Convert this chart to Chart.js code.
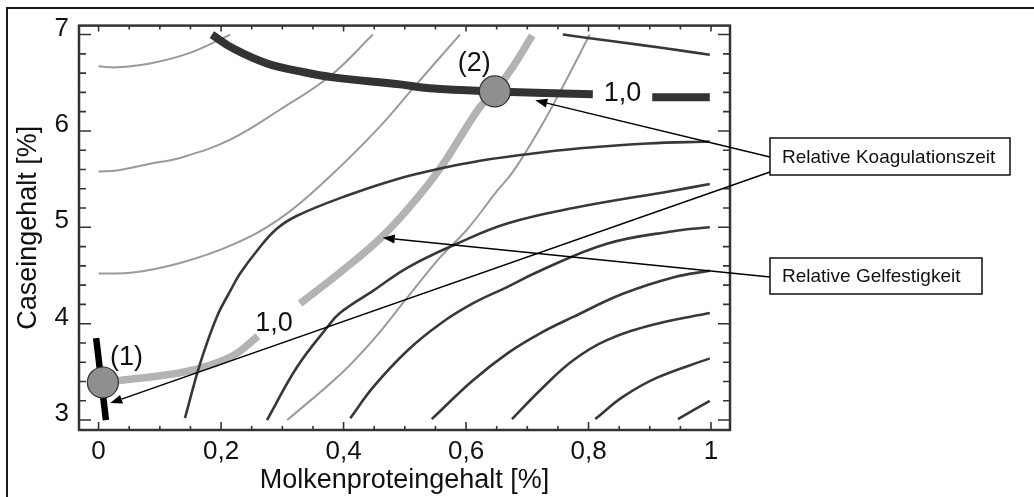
<!DOCTYPE html>
<html>
<head>
<meta charset="utf-8">
<script src="https://cdn.jsdelivr.net/npm/chart.js@4.4.1/dist/chart.umd.min.js"></script>
<style>
  html, body { margin: 0; padding: 0; background: #fff; }
  #wrap { width: 1034px; height: 497px; }
</style>
</head>
<body>
<div id="wrap"><canvas id="myChart" width="1034" height="497"></canvas></div>
<script>
var xTicks = [0, 0.2, 0.4, 0.6, 0.8, 1];
var xTickLabels = ["0", "0,2", "0,4", "0,6", "0,8", "1"];
var yTicks = [3, 4, 5, 6, 7];
var yTickLabels = ["3", "4", "5", "6", "7"];

// Relative Koagulationszeit, Isolinie 1,0 (mit Lücke für die Beschriftung)
var koag10 = [[0.185, 7.0], [0.22, 6.855], [0.275, 6.70], [0.329, 6.618], [0.383, 6.556], [0.492, 6.483],
  [0.541, 6.442], [0.647, 6.41], [0.807, 6.38], [0.855, null], [0.904, 6.35], [0.998, 6.35]];
var koag10Links = [[-0.004, 3.85], [0.012, 3.0]];

// Relative Koagulationszeit, weitere Isolinien
var koagOben = [[0.758, 7.0], [0.84, 6.93], [0.922, 6.86], [0.998, 6.79]];
var koag1 = [[0.141, 3.02], [0.166, 3.59], [0.193, 4.07], [0.215, 4.34], [0.231, 4.52], [0.259, 4.76],
  [0.29, 4.98], [0.324, 5.12], [0.406, 5.33], [0.487, 5.50], [0.558, 5.61], [0.623, 5.69], [0.677, 5.74],
  [0.786, 5.82], [0.896, 5.87], [0.998, 5.89]];
var koag2 = [[0.275, 3.0], [0.324, 3.55], [0.373, 3.96], [0.394, 4.11], [0.448, 4.34], [0.504, 4.58],
  [0.585, 4.83], [0.667, 5.04], [0.775, 5.20], [0.938, 5.38], [0.998, 5.45]];
var koag3 = [[0.411, 3.02], [0.448, 3.34], [0.504, 3.72], [0.558, 4.0], [0.611, 4.21], [0.667, 4.38],
  [0.721, 4.55], [0.83, 4.83], [0.938, 4.96], [0.998, 5.0]];
var koag4 = [[0.544, 3.01], [0.611, 3.41], [0.667, 3.69], [0.721, 3.90], [0.775, 4.07], [0.856, 4.31],
  [0.938, 4.48], [0.998, 4.55]];
var koag5 = [[0.675, 3.01], [0.721, 3.31], [0.775, 3.62], [0.83, 3.83], [0.912, 4.0], [0.998, 4.11]];
var koag6 = [[0.811, 3.01], [0.856, 3.24], [0.912, 3.44], [0.998, 3.64]];
var koag7 = [[0.946, 3.01], [0.998, 3.20]];

// Relative Gelfestigkeit, Isolinie 1,0 (mit Lücke für die Beschriftung)
var gel10 = [[0.002, 3.39], [0.032, 3.41], [0.112, 3.47], [0.166, 3.54], [0.22, 3.67], [0.26, 3.87],
  [0.295, null], [0.329, 4.21], [0.394, 4.53], [0.464, 4.91], [0.53, 5.38], [0.566, 5.69],
  [0.595, 5.98], [0.623, 6.25], [0.647, 6.41], [0.677, 6.67], [0.708, 6.99]];

// Relative Gelfestigkeit, weitere Isolinien
var gel1 = [[0, 6.67], [0.03, 6.66], [0.084, 6.70], [0.149, 6.81], [0.215, 7.0]];
var gel2 = [[0, 5.58], [0.03, 5.59], [0.084, 5.66], [0.133, 5.72], [0.215, 5.91], [0.296, 6.22],
  [0.378, 6.57], [0.448, 7.0]];
var gel3 = [[0, 4.52], [0.056, 4.53], [0.133, 4.63], [0.215, 4.81], [0.296, 5.09], [0.378, 5.53],
  [0.46, 6.05], [0.513, 6.44], [0.59, 7.0]];
var gel4 = [[0.308, 3.0], [0.394, 3.47], [0.448, 3.83], [0.504, 4.27], [0.558, 4.69], [0.602, 4.98],
  [0.651, 5.38], [0.677, 5.58], [0.721, 6.03], [0.758, 6.46], [0.802, 7.0]];

// Punkte (1) und (2)
var punkte = [[0.007, 3.39], [0.647, 6.41]];
var punktNamen = ["(1)", "(2)"];

// Pfeilziele der Beschriftungskästen
var pfeilKoag = [[0.713, 6.318], [0.019, 3.176]];
var pfeilGel = [[0.464, 4.891]];

var FONT = "'Liberation Sans', Arial, sans-serif";
var DARK = "#383838";

function linie(data, color, width, order) {
  return {
    data: data.map(function (p) { return { x: p[0], y: p[1] }; }),
    borderColor: color,
    borderWidth: width,
    borderCapStyle: "butt",
    pointRadius: 0,
    fill: false,
    spanGaps: false,
    tension: 0.4,
    order: order
  };
}

var datasets = [
  {
    data: punkte.map(function (p) { return { x: p[0], y: p[1] }; }),
    showLine: false,
    pointRadius: 15.5,
    pointBackgroundColor: "#8f8f8f",
    pointBorderColor: "#333",
    pointBorderWidth: 1.2,
    order: 0
  },
  linie(koag10Links, "#000", 6.5, 1),
  linie(koag10, "#333", 8, 2),
  linie(koagOben, DARK, 2.6, 3),
  linie(koag1, DARK, 2.6, 3),
  linie(koag2, DARK, 2.6, 3),
  linie(koag3, DARK, 2.6, 3),
  linie(koag4, DARK, 2.6, 3),
  linie(koag5, DARK, 2.6, 3),
  linie(koag6, DARK, 2.6, 3),
  linie(koag7, DARK, 2.6, 3),
  linie(gel10, "#b3b3b3", 7.5, 4),
  linie(gel1, "#9a9a9a", 2, 5),
  linie(gel2, "#9a9a9a", 2, 5),
  linie(gel3, "#9a9a9a", 2, 5),
  linie(gel4, "#9a9a9a", 2, 5)
];

// Beschriftungskästen rechts neben dem Diagramm (Pixel)
var kaesten = [
  { text: "Relative Koagulationszeit", x: 770, y: 138, w: 240, h: 37, anker: [157, 172], ziele: pfeilKoag },
  { text: "Relative Gelfestigkeit", x: 770, y: 258, w: 212, h: 36, anker: [277], ziele: pfeilGel }
];

function pfeil(ctx, x0, y0, x1, y1) {
  var a = Math.atan2(y1 - y0, x1 - x0);
  var len = 12, half = 4.5;
  var bx = x1 - len * Math.cos(a), by = y1 - len * Math.sin(a);
  ctx.beginPath();
  ctx.moveTo(x0, y0);
  ctx.lineTo(bx, by);
  ctx.stroke();
  ctx.beginPath();
  ctx.moveTo(x1, y1);
  ctx.lineTo(bx + half * Math.sin(a), by - half * Math.cos(a));
  ctx.lineTo(bx - half * Math.sin(a), by + half * Math.cos(a));
  ctx.closePath();
  ctx.fill();
}

var rahmenPlugin = {
  id: "rahmen",
  afterDatasetsDraw: function (chart) {
    var ctx = chart.ctx, xs = chart.scales.x, ys = chart.scales.y, a = chart.chartArea;
    ctx.save();

    // Achsenrahmen
    ctx.strokeStyle = "#333";
    ctx.lineWidth = 2.5;
    ctx.strokeRect(a.left, a.top, a.right - a.left, a.bottom - a.top);

    // Innenliegende Teilstriche
    ctx.lineWidth = 1.6;
    ctx.beginPath();
    for (var i = 0; i <= 20; i++) {
      var v = i * 0.05, px = xs.getPixelForValue(v);
      var major = i % 4 === 0;
      ctx.moveTo(px, a.bottom); ctx.lineTo(px, a.bottom - (major ? 8 : 4));
      ctx.moveTo(px, a.top); ctx.lineTo(px, a.top + (major ? 6 : 4));
    }
    for (var j = 0; j <= 20; j++) {
      var w = 3 + j * 0.2, py = ys.getPixelForValue(w);
      var maj = j % 5 === 0;
      ctx.moveTo(a.left, py); ctx.lineTo(a.left + (maj ? 12 : 7), py);
      ctx.moveTo(a.right, py); ctx.lineTo(a.right - (maj ? 12 : 7), py);
    }
    ctx.stroke();

    // Punktnamen und Isolinienwerte
    ctx.fillStyle = "#111";
    ctx.font = "27px " + FONT;
    ctx.textAlign = "left";
    ctx.textBaseline = "alphabetic";
    var p1x = xs.getPixelForValue(punkte[0][0]), p1y = ys.getPixelForValue(punkte[0][1]);
    var p2x = xs.getPixelForValue(punkte[1][0]), p2y = ys.getPixelForValue(punkte[1][1]);
    ctx.fillText(punktNamen[0], p1x + 7, p1y - 17);
    ctx.fillText(punktNamen[1], p2x - 37, p2y - 20);

    ctx.textAlign = "center";
    ctx.textBaseline = "middle";
    var kx = (xs.getPixelForValue(koag10[8][0]) + xs.getPixelForValue(koag10[10][0])) / 2;
    var ky = (ys.getPixelForValue(koag10[8][1]) + ys.getPixelForValue(koag10[10][1])) / 2;
    ctx.fillText("1,0", kx, ky - 2);
    var gx = (xs.getPixelForValue(gel10[5][0]) + xs.getPixelForValue(gel10[7][0])) / 2;
    var gy = (ys.getPixelForValue(gel10[5][1]) + ys.getPixelForValue(gel10[7][1])) / 2;
    ctx.fillText("1,0", gx - 5, gy + 4);

    // Pfeile von den Kästen
    ctx.strokeStyle = "#000";
    ctx.fillStyle = "#000";
    ctx.lineWidth = 1.5;
    kaesten.forEach(function (k) {
      k.ziele.forEach(function (z, n) {
        pfeil(ctx, k.x, k.anker[n], xs.getPixelForValue(z[0]), ys.getPixelForValue(z[1]));
      });
    });
    ctx.restore();
  },
  afterDraw: function (chart) {
    var ctx = chart.ctx;
    ctx.save();
    // äußerer Rahmen
    ctx.strokeStyle = "#1a1a1a";
    ctx.lineWidth = 2;
    ctx.beginPath();
    ctx.moveTo(1034, 8); ctx.lineTo(7, 8); ctx.lineTo(7, 497);
    ctx.stroke();

    kaesten.forEach(function (k) {
      ctx.fillStyle = "#fff";
      ctx.fillRect(k.x, k.y, k.w, k.h);
      ctx.strokeStyle = "#111";
      ctx.lineWidth = 1.5;
      ctx.strokeRect(k.x, k.y, k.w, k.h);
      ctx.fillStyle = "#111";
      ctx.font = "19px " + FONT;
      ctx.textAlign = "left";
      ctx.textBaseline = "middle";
      ctx.fillText(k.text, k.x + 12, k.y + k.h / 2 + 1);
    });
    ctx.restore();
  }
};

new Chart(document.getElementById("myChart"), {
  type: "line",
  data: { datasets: datasets },
  options: {
    responsive: false,
    animation: false,
    events: [],
    layout: { padding: { left: 0, top: 24, right: 304, bottom: 0 } },
    plugins: { legend: { display: false }, tooltip: { enabled: false } },
    scales: {
      x: {
        type: "linear",
        min: -0.032,
        max: 1.031,
        afterBuildTicks: function (s) { s.ticks = xTicks.map(function (v) { return { value: v }; }); },
        afterFit: function (s) { s.height = 67; },
        grid: { display: false, drawTicks: false },
        border: { display: false },
        ticks: {
          autoSkip: false,
          maxRotation: 0,
          padding: 6,
          color: "#111",
          font: { family: FONT, size: 26 },
          callback: function (v, i) { return xTickLabels[i]; }
        },
        title: {
          display: true,
          text: "Molkenproteingehalt [%]",
          color: "#111",
          font: { family: FONT, size: 27 },
          padding: { top: 0, bottom: 0 }
        }
      },
      y: {
        type: "linear",
        min: 2.897,
        max: 7.093,
        afterBuildTicks: function (s) { s.ticks = yTicks.map(function (v) { return { value: v }; }); },
        afterFit: function (s) { s.width = 79; },
        grid: { display: false, drawTicks: false },
        border: { display: false },
        ticks: {
          autoSkip: false,
          padding: 10,
          labelOffset: -6,
          color: "#111",
          font: { family: FONT, size: 26 },
          callback: function (v, i) { return yTickLabels[i]; }
        },
        title: {
          display: true,
          text: "Caseingehalt [%]",
          color: "#111",
          font: { family: FONT, size: 27 },
          padding: { top: 12, bottom: 0 }
        }
      }
    }
  },
  plugins: [rahmenPlugin]
});
</script>
</body>
</html>
